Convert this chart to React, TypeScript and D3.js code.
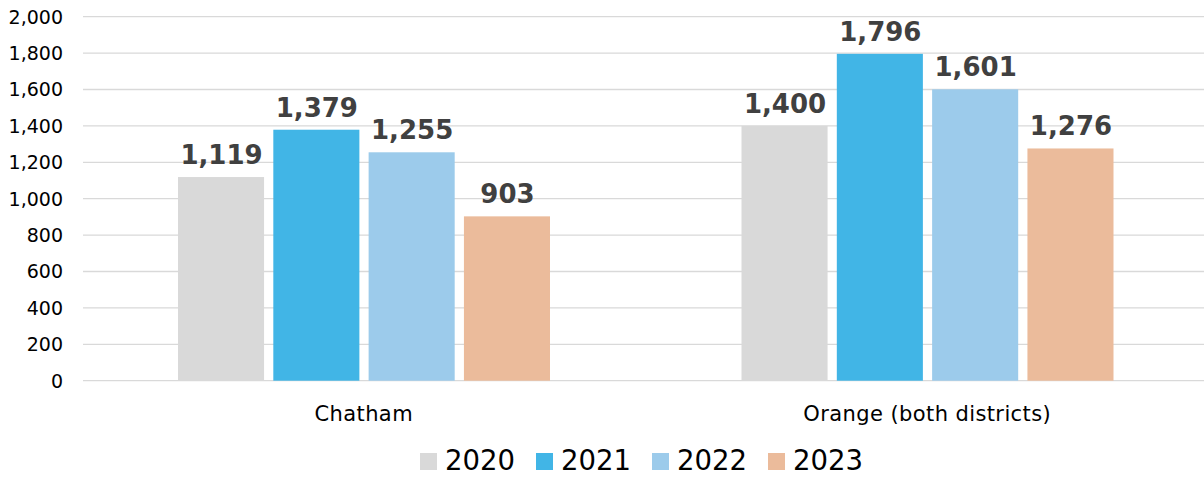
import React from "react";
import * as d3 from "d3";

const categories = ["Chatham", "Orange (both districts)"];
const years = ["2020", "2021", "2022", "2023"];
const values2020 = [1119, 1400];
const values2021 = [1379, 1796];
const values2022 = [1255, 1601];
const values2023 = [903, 1276];
const yTicks = [0, 200, 400, 600, 800, 1000, 1200, 1400, 1600, 1800, 2000];
const colors = ["#d9d9d9", "#41b5e6", "#9ccbeb", "#ebbb9b"];

const series = [values2020, values2021, values2022, values2023];

export default function App() {
  const W = 1204;
  const H = 478;
  const gridLeft = 83;
  const y = d3.scaleLinear().domain([0, 2000]).range([380.7, 16.7]);
  const x0 = d3.scaleBand().domain(categories).range([82, 1209]);
  const x1 = d3
    .scaleBand()
    .domain(years)
    .range([96, 468])
    .paddingInner(0.097)
    .paddingOuter(0);
  const fmt = d3.format(",");
  const font = "'DejaVu Sans', 'Liberation Sans', Arial, sans-serif";

  return (
    <svg
      width={W}
      height={H}
      style={{ position: "absolute", left: 0, top: 0, background: "#fff" }}
    >
      {yTicks.map((t) => (
        <g key={t}>
          <line
            x1={gridLeft}
            x2={W}
            y1={y(t)}
            y2={y(t)}
            stroke="#d9d9d9"
            strokeWidth={1.3}
          />
          <text
            x={63}
            y={y(t)}
            dy="0.36em"
            textAnchor="end"
            fontFamily={font}
            fontSize={19}
            fill="#000"
          >
            {fmt(t)}
          </text>
        </g>
      ))}
      {categories.map((c, ci) => (
        <g key={c} transform={`translate(${x0(c)},0)`}>
          {years.map((yr, si) => {
            const v = series[si][ci];
            const bx = x1(yr)!;
            const bw = x1.bandwidth();
            return (
              <g key={yr}>
                <rect
                  x={bx}
                  y={y(v)}
                  width={bw}
                  height={y(0) - y(v)}
                  fill={colors[si]}
                />
                <text
                  x={bx + bw / 2 + 0.5}
                  y={y(v) - 13}
                  textAnchor="middle"
                  fontFamily={font}
                  fontWeight="bold"
                  fontSize={26}
                  fill="#404040"
                >
                  {fmt(v)}
                </text>
              </g>
            );
          })}
          <text
            x={x0.bandwidth() / 2}
            y={420.5}
            textAnchor="middle"
            fontFamily={font}
            fontSize={21}
            letterSpacing={0.4}
            fill="#000"
          >
            {c}
          </text>
        </g>
      ))}
      {years.map((yr, i) => {
        const lx = 420 + i * 116;
        return (
          <g key={yr}>
            <rect x={lx} y={453} width={17} height={17} fill={colors[i]} />
            <text
              x={lx + 25}
              y={470}
              fontFamily={font}
              fontSize={27.5}
              fill="#000"
            >
              {yr}
            </text>
          </g>
        );
      })}
    </svg>
  );
}
